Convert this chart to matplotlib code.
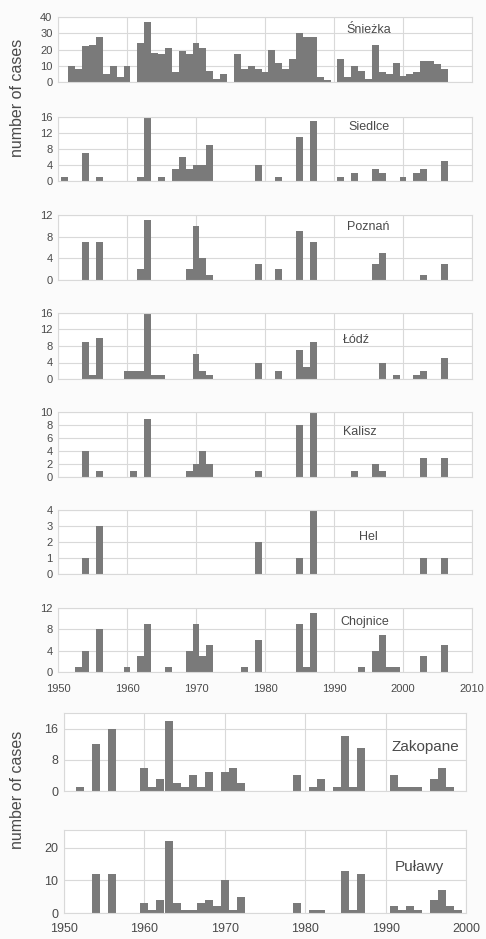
import matplotlib
matplotlib.use("Agg")
import matplotlib.pyplot as plt

plt.rcParams['font.family'] = ['Liberation Sans', 'DejaVu Sans']

# ---- data (cases per year) ----
sniezka_years = list(range(1952, 2007))
sniezka_cases = [10, 8, 22, 23, 28, 5, 10, 3, 10, 0,
                 24, 37, 18, 17, 21, 6, 19, 17, 24, 21,
                 7, 2, 5, 0, 17, 8, 10, 8, 6, 20,
                 12, 8, 14, 30, 28, 28, 3, 1, 0, 14,
                 3, 10, 7, 2, 23, 6, 5, 12, 4, 5,
                 6, 13, 13, 11, 8]

siedlce_years = [1951, 1954, 1956, 1962, 1963, 1965, 1967, 1968, 1969, 1970, 1971, 1972,
                 1979, 1982, 1985, 1987, 1991, 1993, 1996, 1997, 2000, 2002, 2003, 2006]
siedlce_cases = [1, 7, 1, 1, 16, 1, 3, 6, 3, 4, 4, 9,
                 4, 1, 11, 15, 1, 2, 3, 2, 1, 2, 3, 5]

poznan_years = [1954, 1956, 1962, 1963, 1969, 1970, 1971, 1972, 1979, 1982, 1985, 1987,
                1996, 1997, 2003, 2006]
poznan_cases = [7, 7, 2, 11, 2, 10, 4, 1, 3, 2, 9, 7, 3, 5, 1, 3]

lodz_years = [1954, 1955, 1956, 1960, 1961, 1962, 1963, 1964, 1965, 1970, 1971, 1972,
              1979, 1982, 1985, 1986, 1987, 1997, 1999, 2002, 2003, 2006]
lodz_cases = [9, 1, 10, 2, 2, 2, 16, 1, 1, 6, 2, 1,
              4, 2, 7, 3, 9, 4, 1, 1, 2, 5]

kalisz_years = [1954, 1956, 1961, 1963, 1969, 1970, 1971, 1972, 1979, 1985, 1987,
                1993, 1996, 1997, 2003, 2006]
kalisz_cases = [4, 1, 1, 9, 1, 2, 4, 2, 1, 8, 10, 1, 2, 1, 3, 3]

hel_years = [1954, 1956, 1979, 1985, 1987, 2003, 2006]
hel_cases = [1, 3, 2, 1, 4, 1, 1]

chojnice_years = [1953, 1954, 1956, 1960, 1962, 1963, 1966, 1969, 1970, 1971, 1972,
                  1977, 1979, 1985, 1986, 1987, 1994, 1996, 1997, 1998, 1999, 2003, 2006]
chojnice_cases = [1, 4, 8, 1, 3, 9, 1, 4, 9, 3, 5,
                  1, 6, 9, 1, 11, 1, 4, 7, 1, 1, 3, 5]

zakopane_years = [1952, 1954, 1956, 1960, 1961, 1962, 1963, 1964, 1965, 1966, 1967, 1968,
                  1970, 1971, 1972, 1979, 1981, 1982, 1984, 1985, 1986, 1987,
                  1991, 1992, 1993, 1994, 1996, 1997, 1998]
zakopane_cases = [1, 12, 16, 6, 1, 3, 18, 2, 1, 4, 1, 5,
                  5, 6, 2, 4, 1, 3, 1, 14, 1, 11,
                  4, 1, 1, 1, 3, 6, 1]

pulawy_years = [1954, 1956, 1960, 1961, 1962, 1963, 1964, 1965, 1966, 1967, 1968, 1969,
                1970, 1971, 1972, 1979, 1981, 1982, 1985, 1986, 1987,
                1991, 1992, 1993, 1994, 1996, 1997, 1998, 1999]
pulawy_cases = [12, 12, 3, 1, 4, 22, 3, 1, 1, 3, 4, 2,
                10, 1, 5, 3, 1, 1, 13, 1, 12,
                2, 1, 2, 1, 4, 7, 2, 1]

top_names = ["Śnieżka", "Siedlce", "Poznań", "Łódź", "Kalisz", "Hel", "Chojnice"]
top_years = [sniezka_years, siedlce_years, poznan_years, lodz_years,
             kalisz_years, hel_years, chojnice_years]
top_cases = [sniezka_cases, siedlce_cases, poznan_cases, lodz_cases,
             kalisz_cases, hel_cases, chojnice_cases]
top_yticks = [[0, 10, 20, 30, 40], [0, 4, 8, 12, 16], [0, 4, 8, 12], [0, 4, 8, 12, 16],
              [0, 2, 4, 6, 8, 10], [0, 1, 2, 3, 4], [0, 4, 8, 12]]
top_label_pos = [(0.75, 0.80), (0.75, 0.84), (0.75, 0.82), (0.72, 0.59),
                 (0.73, 0.69), (0.75, 0.58), (0.74, 0.78)]

bottom_names = ["Zakopane", "Puławy"]
bottom_years = [zakopane_years, pulawy_years]
bottom_cases = [zakopane_cases, pulawy_cases]
bottom_yticks = [[0, 8, 16], [0, 10, 20]]
bottom_ylim = [20, 25.5]
bottom_label_pos = [(0.90, 0.56), (0.885, 0.55)]

BAR = '#7a7a7a'
GRID = '#d9d9d9'
TXT = '#4a4a4a'
W, H = 486, 939


def style(ax, fs, xpad):
    ax.set_facecolor('white')
    ax.grid(True, color=GRID, linewidth=0.8)
    ax.set_axisbelow(True)
    for s in ax.spines.values():
        s.set_color(GRID)
        s.set_linewidth(0.8)
    ax.tick_params(length=0, labelsize=fs, colors=TXT)
    ax.tick_params(axis='y', pad=4)
    ax.tick_params(axis='x', pad=xpad)


fig = plt.figure(figsize=(W / 100, H / 100), dpi=100, facecolor='#fbfbfb')

# top group: 7 panels, 1950-2010
top_px = [(17, 82), (117, 181), (215, 280), (313, 379), (412, 477), (510, 574), (608, 672)]
for i, (t, b) in enumerate(top_px):
    ax = fig.add_axes([58 / W, 1 - b / H, 414 / W, (b - t) / H])
    ax.bar(top_years[i], top_cases[i], width=1.0, color=BAR, linewidth=0)
    ax.set_xlim(1950, 2010)
    ax.set_ylim(0, top_yticks[i][-1])
    ax.set_yticks(top_yticks[i])
    ax.set_xticks(range(1950, 2011, 10))
    style(ax, 8, 9)
    if i < 6:
        ax.set_xticklabels([])
    lx, ly = top_label_pos[i]
    ax.text(lx, ly, top_names[i], transform=ax.transAxes, fontsize=9,
            color=TXT, ha='center', va='center')

# bottom group: 2 panels, 1950-2000
bot_px = [(713, 791), (830, 913)]
for i, (t, b) in enumerate(bot_px):
    ax = fig.add_axes([64 / W, 1 - b / H, 402 / W, (b - t) / H])
    ax.bar(bottom_years[i], bottom_cases[i], width=1.0, color=BAR, linewidth=0)
    ax.set_xlim(1950, 2000)
    ax.set_ylim(0, bottom_ylim[i])
    ax.set_yticks(bottom_yticks[i])
    ax.set_xticks(range(1950, 2001, 10))
    style(ax, 9, 7)
    if i == 0:
        ax.set_xticklabels([])
    lx, ly = bottom_label_pos[i]
    ax.text(lx, ly, bottom_names[i], transform=ax.transAxes, fontsize=11,
            color=TXT, ha='center', va='center')

fig.text(18 / W, 1 - 98 / H, "number of cases", rotation=90, fontsize=11.5,
         color=TXT, ha='center', va='center')
fig.text(18 / W, 1 - 790 / H, "number of cases", rotation=90, fontsize=11.5,
         color=TXT, ha='center', va='center')

fig.savefig("out.png", dpi=100, facecolor=fig.get_facecolor())
